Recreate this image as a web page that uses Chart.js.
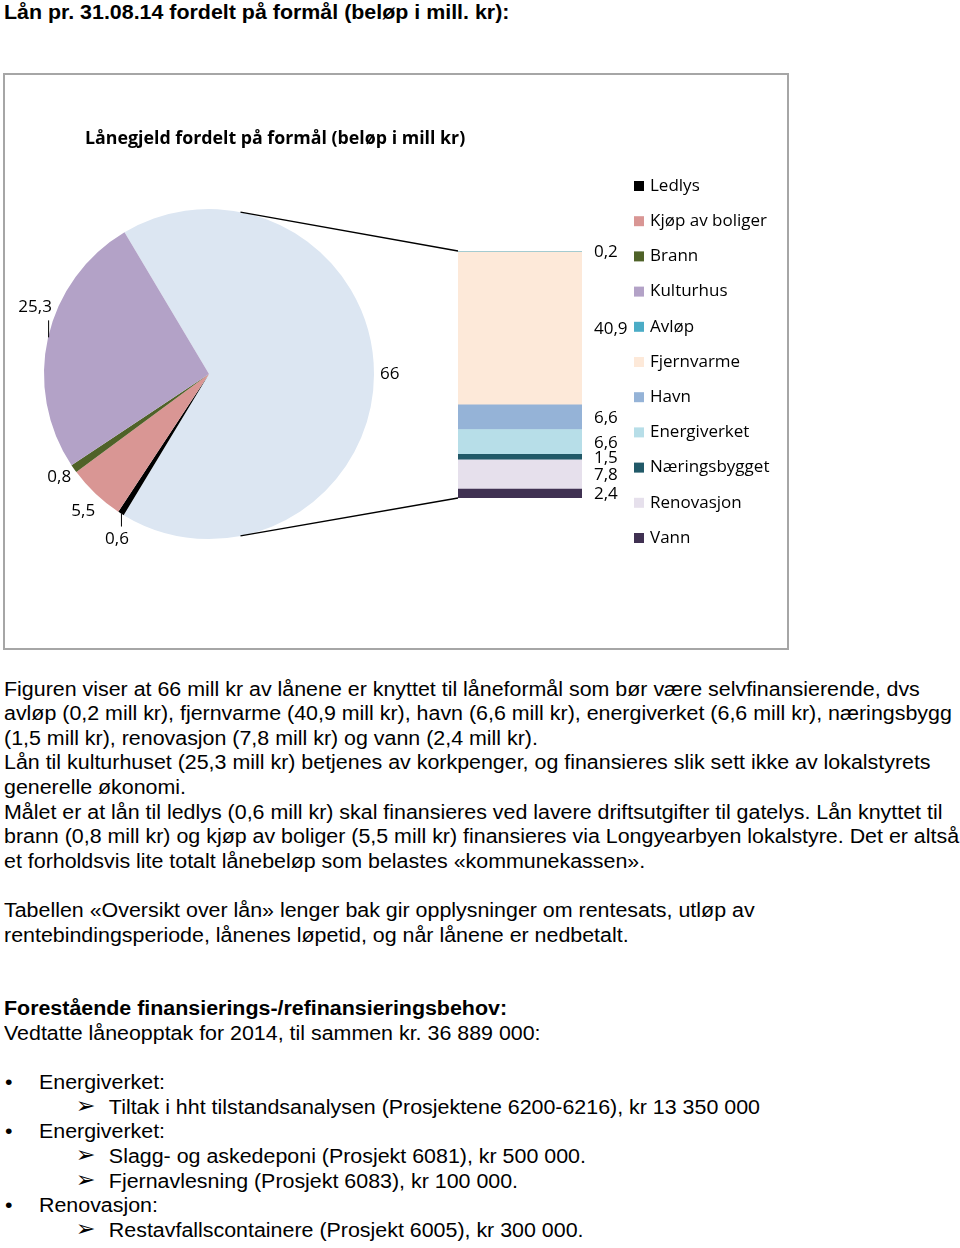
<!DOCTYPE html>
<html lang="no">
<head>
<meta charset="utf-8">
<title>Lånegjeld fordelt på formål</title>
<script src="https://cdn.jsdelivr.net/npm/chart.js@4.4.1/dist/chart.umd.min.js"></script>
<style>
  body { margin: 0; background: #fff; width: 960px; height: 1248px; position: relative; overflow: hidden;
         font-family: "Liberation Sans", Arial, sans-serif; color: #000; }
  h1 { position: absolute; left: 4px; top: 0; margin: 0; font-size: 20px; line-height: 24px; font-weight: bold; white-space: nowrap;
       transform: scaleX(1.07); transform-origin: 0 0; }
  #chartBox { position: absolute; left: 3px; top: 73px; width: 786px; height: 577px; border: 2px solid #a6a6a6; box-sizing: border-box; }
  #chartBox canvas { position: absolute; left: 0; top: 0; }
  #text { position: absolute; left: 4px; top: 676.7px; font-size: 20px; line-height: 24.6px; white-space: nowrap;
          transform: scaleX(1.07); transform-origin: 0 0; }
  #text div { position: relative; height: 24.6px; }
  .b { font-weight: bold; }
  .bul { padding-left: 32.7px; }
  .bul::before { content: "•"; position: absolute; left: 1px; }
  .arr { padding-left: 98px; }
  .arr::before { content: "➢"; position: absolute; left: 67px; top: -1px; font-family: "DejaVu Sans"; font-size: 22px; }
</style>
</head>
<body>
<h1>Lån pr. 31.08.14 fordelt på formål (beløp i mill. kr):</h1>

<div id="chartBox">
  <canvas id="pieChart" width="782" height="573"></canvas>
  <canvas id="barChart" width="782" height="573"></canvas>
</div>

<div id="text">
  <div>Figuren viser at 66 mill kr av lånene er knyttet til låneformål som bør være selvfinansierende, dvs</div>
  <div>avløp (0,2 mill kr), fjernvarme (40,9 mill kr), havn (6,6 mill kr), energiverket (6,6 mill kr), næringsbygg</div>
  <div>(1,5 mill kr), renovasjon (7,8 mill kr) og vann (2,4 mill kr).</div>
  <div>Lån til kulturhuset (25,3 mill kr) betjenes av korkpenger, og finansieres slik sett ikke av lokalstyrets</div>
  <div>generelle økonomi.</div>
  <div>Målet er at lån til ledlys (0,6 mill kr) skal finansieres ved lavere driftsutgifter til gatelys. Lån knyttet til</div>
  <div>brann (0,8 mill kr) og kjøp av boliger (5,5 mill kr) finansieres via Longyearbyen lokalstyre. Det er altså</div>
  <div>et forholdsvis lite totalt lånebeløp som belastes «kommunekassen».</div>
  <div></div>
  <div>Tabellen «Oversikt over lån» lenger bak gir opplysninger om rentesats, utløp av</div>
  <div>rentebindingsperiode, lånenes løpetid, og når lånene er nedbetalt.</div>
  <div></div>
  <div></div>
  <div class="b">Forestående finansierings-/refinansieringsbehov:</div>
  <div>Vedtatte låneopptak for 2014, til sammen kr. 36 889 000:</div>
  <div></div>
  <div class="bul">Energiverket:</div>
  <div class="arr">Tiltak i hht tilstandsanalysen (Prosjektene 6200-6216), kr 13 350 000</div>
  <div class="bul">Energiverket:</div>
  <div class="arr">Slagg- og askedeponi (Prosjekt 6081), kr 500 000.</div>
  <div class="arr">Fjernavlesning (Prosjekt 6083), kr 100 000.</div>
  <div class="bul">Renovasjon:</div>
  <div class="arr">Restavfallscontainere (Prosjekt 6005), kr 300 000.</div>
</div>

<script>
// pie: the first slice is the group that is split out in the bar
const pieLabels = ['Andre formål', 'Ledlys', 'Kjøp av boliger', 'Brann', 'Kulturhus'];
const pieValues = [66, 0.6, 5.5, 0.8, 25.3];
const pieColors = ['#DCE6F2', '#000000', '#D99694', '#4F6228', '#B3A2C7'];

// breakdown of "Andre formål", top to bottom
const barLabels = ['Avløp', 'Fjernvarme', 'Havn', 'Energiverket', 'Næringsbygget', 'Renovasjon', 'Vann'];
const barValues = [0.2, 40.9, 6.6, 6.6, 1.5, 7.8, 2.4];
const barColors = ['#4BACC6', '#FDE9D9', '#95B3D7', '#B7DEE8', '#215968', '#E6E0EC', '#403152'];

const chartTitle = 'Lånegjeld fordelt på formål (beløp i mill kr)';

const fmt = v => String(v).replace('.', ',');
const labelFont = '17px "Open Sans"';

// labels that Excel moved away from the slice, with a leader line
const leaders = {
  1: { len: 13, dx: -4, dy: 26 },
  4: { len: -17, dx: -13, dy: -30 }
};

const pieLabelPlugin = {
  id: 'pieLabels',
  afterDatasetsDraw(chart) {
    const ctx = chart.ctx;
    const meta = chart.getDatasetMeta(0);
    ctx.save();
    ctx.font = labelFont;
    ctx.fillStyle = '#000';
    ctx.strokeStyle = '#000';
    ctx.lineWidth = 1;
    ctx.textAlign = 'center';
    ctx.textBaseline = 'middle';
    meta.data.forEach((arc, i) => {
      const mid = (arc.startAngle + arc.endAngle) / 2;
      const dx = Math.cos(mid), dy = Math.sin(mid);
      const ex = arc.x + dx * arc.outerRadius;
      const ey = arc.y + dy * arc.outerRadius;
      const text = fmt(pieValues[i]);
      let lx, ly;
      const lead = leaders[i];
      if (lead) {
        ctx.beginPath();
        ctx.moveTo(ex + 0.5, ey);
        ctx.lineTo(ex + 0.5, ey + lead.len);
        ctx.stroke();
        lx = ex + lead.dx;
        ly = ey + lead.dy;
      } else {
        const w = ctx.measureText(text).width;
        lx = ex + dx * 6 + dx * w / 2;
        ly = ey + dy * 6 + dy * 8.5;
        if (i === 2) ly += 7;  // pushed down a bit, clear of 0,8
      }
      ctx.fillText(text, lx, ly);
    });
    ctx.restore();
  }
};

const pieChart = new Chart(document.getElementById('pieChart'), {
  type: 'pie',
  data: {
    labels: pieLabels,
    datasets: [{
      data: pieValues,
      backgroundColor: pieColors,
      borderWidth: 0
    }]
  },
  options: {
    responsive: false,
    animation: false,
    events: [],
    rotation: -30.8,
    layout: { padding: { left: 39, right: 413, top: 134, bottom: 109 } },
    plugins: {
      legend: { display: false },
      tooltip: { enabled: false }
    }
  },
  plugins: [pieLabelPlugin]
});

const barExtras = {
  id: 'barExtras',
  afterDatasetsDraw(chart) {
    const ctx = chart.ctx;
    const n = chart.data.datasets.length;
    ctx.save();

    // lines from the pie to the bar
    const arc = pieChart.getDatasetMeta(0).data[0];
    const a = 79 * Math.PI / 180;
    const topEl = chart.getDatasetMeta(n - 1).data[0];
    const botEl = chart.getDatasetMeta(0).data[0];
    const left = topEl.x - topEl.width / 2;
    ctx.strokeStyle = '#000';
    ctx.lineWidth = 1.3;
    ctx.beginPath();
    ctx.moveTo(arc.x + arc.outerRadius * Math.cos(-a), arc.y + arc.outerRadius * Math.sin(-a));
    ctx.lineTo(left, topEl.y);
    ctx.moveTo(arc.x + arc.outerRadius * Math.cos(a), arc.y + arc.outerRadius * Math.sin(a));
    ctx.lineTo(left, botEl.base);
    ctx.stroke();

    // segment values, top to bottom, kept apart a little
    ctx.font = labelFont;
    ctx.fillStyle = '#000';
    ctx.textAlign = 'left';
    ctx.textBaseline = 'middle';
    let prev = -Infinity;
    for (let d = n - 1; d >= 0; d--) {
      const el = chart.getDatasetMeta(d).data[0];
      let y = Math.max((el.y + el.base) / 2 + 1, prev + 15);
      prev = y;
      ctx.fillText(fmt(barValues[n - 1 - d]), el.x + el.width / 2 + 12, y);
    }

    // title
    ctx.font = 'bold 17.8px "Open Sans"';
    ctx.fillText(chartTitle, 80, 64);

    // legend: pie items (without the grouped slice), then bar items
    const items = pieLabels.slice(1).map((l, i) => [l, pieColors[i + 1]])
      .concat(barLabels.map((l, i) => [l, barColors[i]]));
    ctx.font = labelFont;
    items.forEach(([label, color], i) => {
      const y = 111 + i * 35.2;
      ctx.fillStyle = color;
      ctx.fillRect(629, y - 5, 10, 10);
      ctx.fillStyle = '#000';
      ctx.fillText(label, 645, y);
    });
    ctx.restore();
  }
};

// Chart.js stacks from the bottom up, so the bar datasets go in reverse
const barDatasets = barLabels.map((label, i) => ({
  label: label,
  data: [barValues[i]],
  backgroundColor: barColors[i],
  borderWidth: 0,
  barPercentage: 1,
  categoryPercentage: 1
})).reverse();

new Chart(document.getElementById('barChart'), {
  type: 'bar',
  data: {
    labels: [pieLabels[0]],
    datasets: barDatasets
  },
  options: {
    responsive: false,
    animation: false,
    events: [],
    layout: { padding: { left: 453, right: 205, top: 176, bottom: 150 } },
    scales: {
      x: { stacked: true, display: false },
      y: { stacked: true, display: false, min: 0, max: pieValues[0] }
    },
    plugins: {
      legend: { display: false },
      tooltip: { enabled: false }
    }
  },
  plugins: [barExtras]
});
</script>
</body>
</html>
